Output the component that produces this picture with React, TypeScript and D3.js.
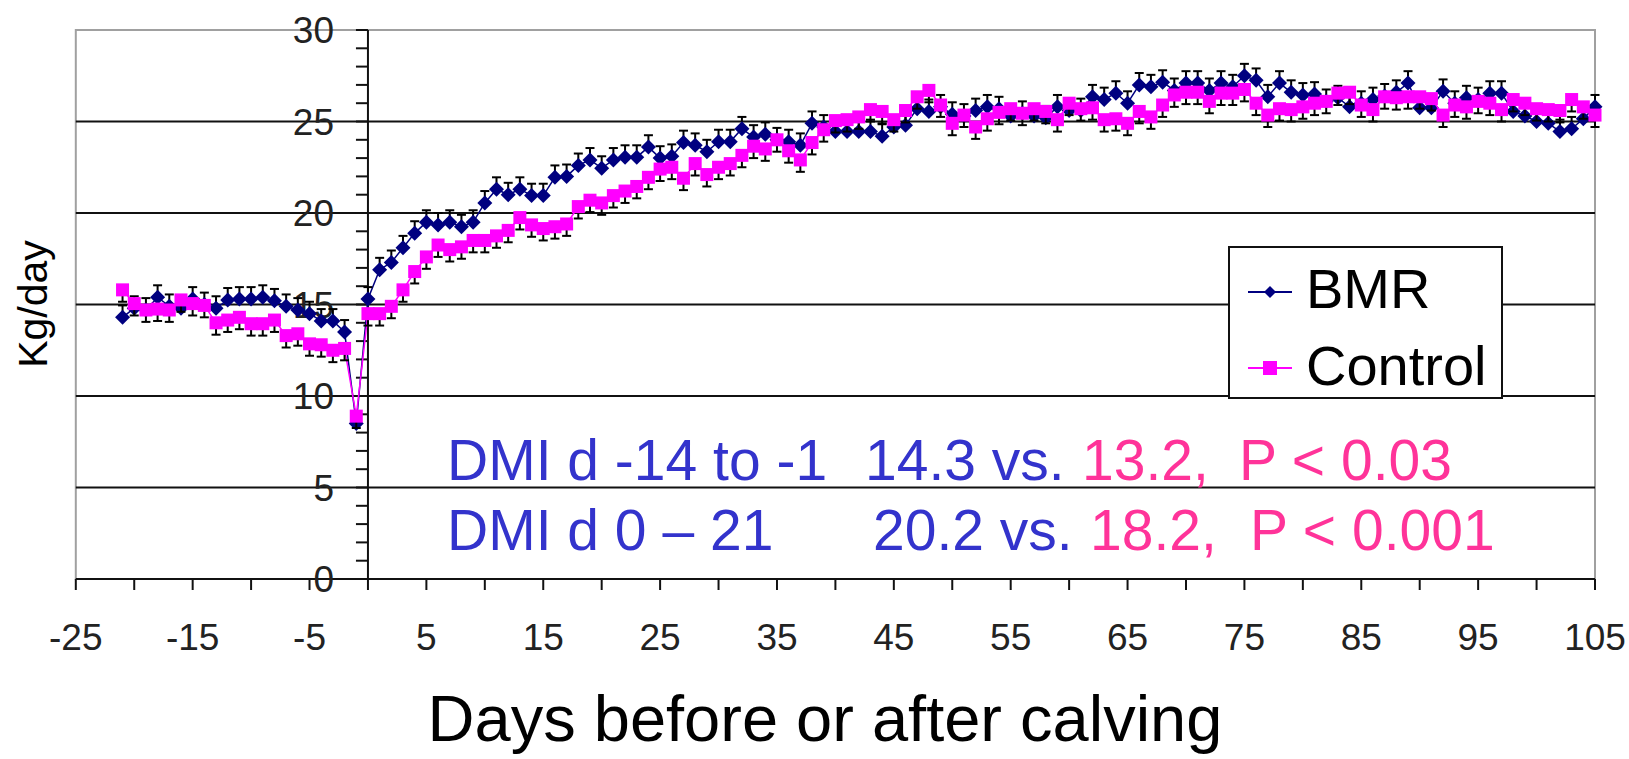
import React from 'react';
import * as d3 from 'd3';

// daily dry matter intake, day -21 to 105 relative to calving
const startDay = -21;

const bmrValues = [
  14.3, 14.8, 14.7, 15.4, 14.9, 14.8, 15.3, 15.0, 14.8, 15.25, 15.3, 15.3, 15.4, 15.2, 14.9, 14.7, 14.5, 14.1, 14.1, 13.5,
  8.5, 15.3, 16.9, 17.3, 18.1, 18.9, 19.5, 19.35, 19.5, 19.25, 19.5, 20.55, 21.3, 21.0, 21.3, 20.95, 20.95, 21.95, 22.0, 22.6,
  22.9, 22.45, 22.9, 23.05, 23.05, 23.6, 23.0, 23.1, 23.85, 23.7, 23.35, 23.9, 23.9, 24.6, 24.15, 24.3, 24.0, 23.9, 23.7, 24.9,
  24.7, 24.45, 24.45, 24.45, 24.45, 24.2, 24.7, 24.8, 25.7, 25.55, 25.8, 25.4, 25.3, 25.6, 25.8, 25.7, 25.3, 25.45, 25.3, 25.2,
  25.8, 25.6, 25.6, 26.35, 26.2, 26.55, 26.0, 27.0, 26.9, 27.15, 26.7, 27.1, 27.1, 26.7, 27.1, 26.9, 27.5, 27.25, 26.35, 27.1,
  26.6, 26.45, 26.5, 26.1, 26.3, 25.8, 26.0, 26.2, 26.4, 26.6, 27.1, 25.75, 25.75, 26.65, 26.0, 26.3, 26.2, 26.55, 26.55, 25.55,
  25.3, 25.0, 24.9, 24.45, 24.6, 25.15, 25.8,
];

const controlValues = [
  15.8, 15.05, 14.7, 14.75, 14.7, 15.25, 15.05, 14.95, 14.0, 14.15, 14.3, 13.95, 13.95, 14.15, 13.3, 13.4, 12.85, 12.8, 12.5, 12.6,
  8.9, 14.5, 14.5, 14.9, 15.8, 16.8, 17.6, 18.25, 18.0, 18.15, 18.5, 18.5, 18.75, 19.05, 19.75, 19.35, 19.15, 19.25, 19.4, 20.35,
  20.7, 20.55, 20.95, 21.2, 21.45, 21.95, 22.4, 22.5, 21.9, 22.7, 22.1, 22.5, 22.7, 23.15, 23.65, 23.5, 24.0, 23.4, 22.9, 23.85,
  24.55, 25.05, 25.1, 25.25, 25.65, 25.55, 25.1, 25.6, 26.35, 26.7, 25.9, 24.9, 25.35, 24.7, 25.15, 25.5, 25.7, 25.45, 25.7, 25.55,
  25.1, 26.0, 25.7, 25.75, 25.1, 25.15, 24.9, 25.55, 25.25, 25.9, 26.45, 26.6, 26.6, 26.1, 26.55, 26.55, 26.75, 26.0, 25.35, 25.7,
  25.65, 25.8, 26.0, 26.1, 26.55, 26.6, 25.9, 25.65, 26.35, 26.3, 26.35, 26.35, 26.25, 25.35, 25.9, 25.8, 26.1, 26.0, 25.65, 26.2,
  26.0, 25.7, 25.65, 25.6, 26.2, 25.8, 25.35,
];

// error bars: BMR drawn up, Control drawn down
const bmrSE = 0.65;
const controlSE = 0.65;

const yTicks = [0, 5, 10, 15, 20, 25, 30];
const xLabels = [-25, -15, -5, 5, 15, 25, 35, 45, 55, 65, 75, 85, 95, 105];

const annotationRows = [
  { label: 'DMI d -14 to -1', bmr: '14.3 vs.', ctl: '13.2,', p: 'P < 0.03' },
  { label: 'DMI d 0 \u2013 21', bmr: '20.2 vs.', ctl: '18.2,', p: 'P < 0.001' },
];

const FONT = '"Liberation Sans", Arial, sans-serif';
const BLUE_TEXT = '#3333cc';
const PINK_TEXT = '#ff3399';

type Pt = { day: number; v: number };

const App: React.FC = () => {
  const width = 1629;
  const height = 759;

  const x = d3.scaleLinear().domain([-25, 105]).range([75.8, 1595]);
  const y = d3.scaleLinear().domain([0, 30]).range([579, 30]);

  const bmr: Pt[] = bmrValues.map((v, i) => ({ day: startDay + i, v }));
  const control: Pt[] = controlValues.map((v, i) => ({ day: startDay + i, v }));

  const line = d3
    .line<Pt>()
    .x((d) => x(d.day))
    .y((d) => y(d.v));

  const minorY = d3.range(0, 31, 1);
  const xTickVals = d3.range(-25, 106, 5);
  const diamond = (r: number) => `M0,${-r}L${r},0L0,${r}L${-r},0Z`;

  const errBar = (d: Pt, se: number, dir: number, key: string) => {
    const cx = x(d.day);
    const y0 = y(d.v);
    const y1 = y(d.v + dir * se);
    return (
      <g key={key} stroke="#000" strokeWidth={2}>
        <line x1={cx} x2={cx} y1={y0} y2={y1} />
        <line x1={cx - 4.5} x2={cx + 4.5} y1={y1} y2={y1} />
      </g>
    );
  };

  return (
    <>
      <style>{'body{margin:0}'}</style>
      <svg width={width} height={height} style={{ display: 'block', background: '#fff' }} fontFamily={FONT}>
        {/* plot area border */}
        <rect x={x(-25)} y={y(30)} width={x(105) - x(-25)} height={y(0) - y(30)} fill="none" stroke="#a0a0a0" strokeWidth={2} />

        {/* gridlines */}
        {yTicks.slice(1, -1).map((t) => (
          <line key={'g' + t} x1={x(-25)} x2={x(105)} y1={y(t)} y2={y(t)} stroke="#111" strokeWidth={2} />
        ))}

        {/* x axis */}
        <line x1={x(-25)} x2={x(105)} y1={y(0)} y2={y(0)} stroke="#111" strokeWidth={2} />
        {xTickVals.map((t) => (
          <line key={'xt' + t} x1={x(t)} x2={x(t)} y1={y(0)} y2={y(0) + 11} stroke="#111" strokeWidth={2} />
        ))}
        {xLabels.map((t) => (
          <text key={'xl' + t} x={x(t)} y={650} textAnchor="middle" fontSize={37} fill="#222">
            {t}
          </text>
        ))}

        {/* y axis crossing at day 0 */}
        <line x1={x(0)} x2={x(0)} y1={y(30)} y2={y(0)} stroke="#111" strokeWidth={2} />
        {minorY.map((t) => (
          <line key={'yt' + t} x1={x(0) - 12} x2={x(0)} y1={y(t)} y2={y(t)} stroke="#111" strokeWidth={2} />
        ))}
        {yTicks.map((t) => (
          <text key={'yl' + t} x={334} y={y(t)} dy="0.36em" textAnchor="end" fontSize={37} fill="#222">
            {t}
          </text>
        ))}

        {/* BMR series */}
        <path d={line(bmr) ?? ''} fill="none" stroke="#000080" strokeWidth={1.5} />
        {bmr.map((d, i) => errBar(d, bmrSE, 1, 'be' + i))}
        {bmr.map((d, i) => (
          <path key={'bm' + i} d={diamond(7.5)} transform={`translate(${x(d.day)},${y(d.v)})`} fill="#000080" />
        ))}

        {/* Control series */}
        <path d={line(control) ?? ''} fill="none" stroke="#ff00ff" strokeWidth={1.5} />
        {control.map((d, i) => errBar(d, controlSE, -1, 'ce' + i))}
        {control.map((d, i) => (
          <rect key={'cm' + i} x={x(d.day) - 6.5} y={y(d.v) - 6.5} width={13} height={13} fill="#ff00ff" />
        ))}

        {/* legend */}
        <rect x={1229} y={247} width={273} height={151} fill="#fff" stroke="#111" strokeWidth={2} />
        <line x1={1248} x2={1292} y1={292} y2={292} stroke="#000080" strokeWidth={2} />
        <path d={diamond(6)} transform="translate(1270,292)" fill="#000080" />
        <text x={1306} y={308} fontSize={56} fill="#000">BMR</text>
        <line x1={1248} x2={1292} y1={368} y2={368} stroke="#ff00ff" strokeWidth={2} />
        <rect x={1263} y={361} width={14} height={14} fill="#ff00ff" />
        <text x={1306} y={385} fontSize={56} fill="#000">Control</text>

        {/* annotation */}
        {annotationRows.map((r, i) => {
          const by = 480 + i * 70;
          return (
            <g key={'an' + i} fontSize={57}>
              <text x={447} y={by} fill={BLUE_TEXT}>{r.label}</text>
              <text x={i === 0 ? 865 : 873} y={by} fill={BLUE_TEXT}>{r.bmr}</text>
              <text x={i === 0 ? 1082 : 1090} y={by} fill={PINK_TEXT}>{r.ctl}</text>
              <text x={i === 0 ? 1239 : 1250} y={by} fill={PINK_TEXT}>{r.p}</text>
            </g>
          );
        })}

        {/* axis titles */}
        <text transform="translate(47,304) rotate(-90)" textAnchor="middle" fontSize={41} fill="#000">
          Kg/day
        </text>
        <text x={825} y={741} textAnchor="middle" fontSize={65} fill="#000">
          Days before or after calving
        </text>
      </svg>
    </>
  );
};

export default App;
